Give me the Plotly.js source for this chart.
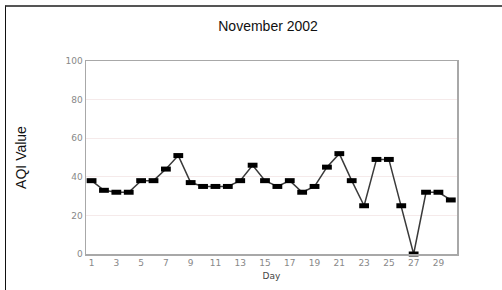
<!DOCTYPE html>
<html>
<head>
<meta charset="utf-8">
<script src="https://cdn.plot.ly/plotly-3.0.1.min.js"></script>
<style>
html,body{margin:0;padding:0;background:#fff;}
#wrap{position:relative;width:502px;height:290px;overflow:hidden;}
#chart{position:absolute;left:0;top:0;width:502px;height:290px;}
#frame{position:absolute;left:5px;top:5px;width:600px;height:400px;border-top:2px solid #555;border-left:1px solid #111;pointer-events:none;}
</style>
</head>
<body>
<div id="wrap"><div id="chart"></div><div id="frame"></div></div>
<script>
const days = [1,2,3,4,5,6,7,8,9,10,11,12,13,14,15,16,17,18,19,20,21,22,23,24,25,26,27,28,29,30];
const aqi = [38,33,32,32,38,38,44,51,37,35,35,35,38,46,38,35,38,32,35,45,52,38,25,49,49,25,0,32,32,28];
const xTicks = [1,3,5,7,9,11,13,15,17,19,21,23,25,27,29];
const xTickLabels = ["1","3","5","7","9","11","13","15","17","19","21","23","25","27","29"];
const yTicks = [0,20,40,60,80,100];
const yTickLabels = ["0","20","40","60","80","100"];

Plotly.newPlot('chart', [{
  x: days, y: aqi, type: 'scatter', mode: 'lines+markers',
  line: {color: '#3a3a3a', width: 1.5},
  marker: {symbol: 'line-ew', size: 7, color: '#000', line: {color: '#000', width: 5}},
  cliponaxis: false, hoverinfo: 'none'
}], {
  width: 502, height: 290,
  margin: {l: 86, r: 45, t: 61, b: 36},
  paper_bgcolor: '#fff', plot_bgcolor: '#fff',
  showlegend: false,
  title: {text: 'November 2002', x: 0.534, xref: 'container', xanchor: 'center', y: 0.91, yref: 'container', yanchor: 'middle',
          font: {family: 'Liberation Sans, Arial, sans-serif', size: 14, color: '#111'}},
  xaxis: {
    range: [0.55, 30.5], tickvals: xTicks, ticktext: xTickLabels,
    showgrid: false, zeroline: false, showline: true, mirror: true,
    linecolor: '#a8a8a8', linewidth: 1.5, ticks: '',
    tickfont: {family: 'DejaVu Sans, sans-serif', size: 9, color: '#888'},
    title: {text: 'Day', standoff: 5, font: {family: 'DejaVu Sans, sans-serif', size: 9, color: '#444'}}
  },
  yaxis: {
    range: [0, 100], tickvals: yTicks, ticktext: yTickLabels,
    showgrid: true, gridcolor: '#f5eaea', gridwidth: 1,
    zeroline: false, showline: true, mirror: true,
    linecolor: '#a8a8a8', linewidth: 1.5, ticks: '', ticklen: 0,
    tickfont: {family: 'DejaVu Sans, sans-serif', size: 9, color: '#888'},
    title: {text: 'AQI Value', standoff: 35, font: {family: 'Liberation Sans, Arial, sans-serif', size: 14, color: '#111'}}
  }
}, {staticPlot: true, displayModeBar: false});
</script>
</body>
</html>
